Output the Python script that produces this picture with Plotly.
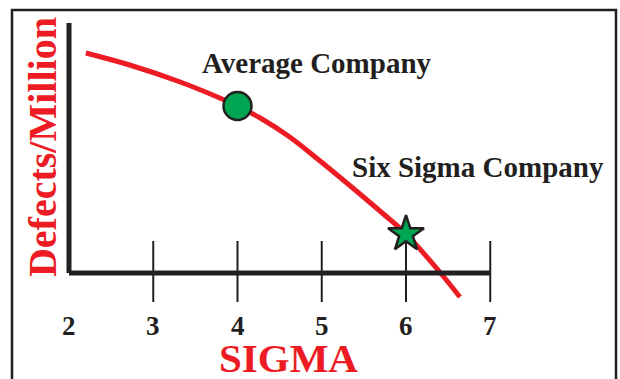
import plotly.graph_objects as go

# ---- data ----
curve_sigma = [2.2, 2.72, 3.32, 3.79, 4.0, 4.27, 4.62, 4.98, 5.34, 5.69, 6.0, 6.4, 6.64]
curve_defects = [8.8, 8.32, 7.64, 7.0, 6.68, 6.2, 5.44, 4.48, 3.48, 2.48, 1.56, 0.04, -0.96]
avg_company = {"sigma": 4.0, "defects": 6.68, "label": "Average Company"}
six_company = {"sigma": 6.0, "defects": 1.56, "label": "Six Sigma Company"}
tick_values = [2, 3, 4, 5, 6, 7]
tick_labels = ["2", "3", "4", "5", "6", "7"]
x_title = "SIGMA"
y_title = "Defects/Million"

# ---- styles ----
RED = "#ed1c24"
GREEN = "#00a651"
INK = "#231f20"
FONT = "Liberation Serif"
W, H = 620, 379
XR = [1.181, 8.540]
YR = [-4.24, 10.92]
Y_TOP = 10.0
TICK_UP, TICK_DOWN = 1.28, -1.16

fig = go.Figure()

shapes = [
    dict(type="line", xref="x", yref="y", x0=tick_values[0], x1=tick_values[-1], y0=0, y1=0,
         line=dict(color=INK, width=5)),
    dict(type="line", xref="x", yref="y", x0=tick_values[0], x1=tick_values[0], y0=0, y1=Y_TOP,
         line=dict(color=INK, width=5)),
    dict(type="rect", xref="paper", yref="paper", x0=12 / W, x1=616 / W, y0=-0.05, y1=1 - 10 / H,
         line=dict(color=INK, width=2.5), fillcolor="rgba(0,0,0,0)"),
]
for t in tick_values[1:]:
    shapes.append(dict(type="line", xref="x", yref="y", x0=t, x1=t, y0=TICK_DOWN, y1=TICK_UP,
                       line=dict(color=INK, width=2)))

fig.add_trace(go.Scatter(x=curve_sigma, y=curve_defects, mode="lines",
                         line=dict(color=RED, width=5, shape="spline", smoothing=1.0),
                         hoverinfo="skip"))
fig.add_trace(go.Scatter(x=[avg_company["sigma"]], y=[avg_company["defects"]], mode="markers",
                         marker=dict(symbol="circle", size=28, color=GREEN,
                                     line=dict(color=INK, width=2.5))))
fig.add_trace(go.Scatter(x=[six_company["sigma"]], y=[six_company["defects"]], mode="markers",
                         marker=dict(symbol="star", size=27, color=GREEN,
                                     line=dict(color=INK, width=2.5))))

annotations = []
for v, lab in zip(tick_values, tick_labels):
    annotations.append(dict(x=v, y=-2.12, xref="x", yref="y", text=lab, showarrow=False,
                            font=dict(family=FONT, size=27, color=INK, weight="bold"),
                            xanchor="center", yanchor="middle"))
annotations.append(dict(x=4.6, y=-3.4, xref="x", yref="y", text=x_title, showarrow=False,
                        font=dict(family=FONT, size=41, color=RED, weight="bold"),
                        xanchor="center", yanchor="middle"))
annotations.append(dict(x=1.68, y=5.04, xref="x", yref="y", text=y_title, showarrow=False,
                        textangle=-90,
                        font=dict(family=FONT, size=40, color=RED, weight="bold"),
                        xanchor="center", yanchor="middle"))
annotations.append(dict(x=4.94, y=8.4, xref="x", yref="y", text=avg_company["label"], showarrow=False,
                        font=dict(family=FONT, size=29, color=INK, weight="bold"),
                        xanchor="center", yanchor="middle"))
annotations.append(dict(x=6.855, y=4.24, xref="x", yref="y", text=six_company["label"], showarrow=False,
                        font=dict(family=FONT, size=29, color=INK, weight="bold"),
                        xanchor="center", yanchor="middle"))

fig.update_layout(
    width=W, height=H,
    margin=dict(l=0, r=0, t=0, b=0),
    paper_bgcolor="white", plot_bgcolor="white",
    showlegend=False,
    hovermode=False,
    xaxis=dict(range=XR, visible=False, fixedrange=True),
    yaxis=dict(range=YR, visible=False, fixedrange=True),
    shapes=shapes,
    annotations=annotations,
)

fig.write_html("out.html", config={"displayModeBar": False, "staticPlot": True},
               post_script="document.body.style.margin='0px';document.body.style.padding='0px';")
